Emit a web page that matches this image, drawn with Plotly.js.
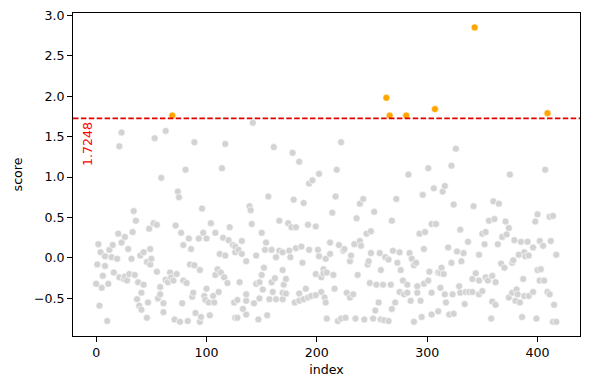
<!DOCTYPE html>
<html>
<head>
<meta charset="utf-8">
<script src="https://cdn.plot.ly/plotly-3.0.1.min.js"></script>
<style>html,body{margin:0;padding:0;background:#fff;}#chart{width:590px;height:389px;}</style>
</head>
<body>
<div id="chart"></div>
<script>
const threshold = 1.7248;

const index = [
0,1,2,3,4,5,6,8,8,10,11,12,14,15,16,19,20,21,21,23,23,25,26,26,28,29,30,32,33,34,35,36,37,38,39,40,41,41,43,43,46,46,47,48,49,49,50,52,53,55,55,56,58,58,59,61,63,63,
61,63,65,67,68,69,70,71,72,73,74,75,76,77,78,79,79,81,82,83,84,85,86,87,88,89,89,90,93,94,94,95,96,97,98,99,100,100,102,103,104,106,107,108,108,110,111,112,113,114,115,116,117,117,119,120,121,124,125,126,126,126,128,128,129,130,132,132,136,136,136,136,
133,139,140,141,142,143,145,145,147,148,148,150,150,151,152,153,154,155,156,157,159,159,160,161,162,163,163,166,166,169,169,169,169,170,172,172,174,175,176,177,178,179,180,181,181,184,184,184,186,187,188,188,190,192,192,193,193,195,196,199,199,199,201,202,202,204,204,206,206,207,208,208,209,209,212,
212,214,215,216,217,218,219,220,222,222,224,225,226,227,230,230,231,233,234,235,236,237,239,239,240,242,243,245,246,247,248,249,249,251,252,253,254,256,257,258,258,260,261,262,263,265,265,266,267,268,268,269,271,272,273,275,275,276,278,279,282,
281,282,283,284,285,286,288,288,290,291,291,293,294,295,296,297,297,298,301,301,302,304,304,304,306,307,308,310,310,312,312,313,314,315,316,316,317,319,320,322,322,323,324,324,326,327,329,330,330,331,333,334,335,337,338,341,341,342,343,344,347,347,347,350,350,353,353,
352,355,356,358,359,359,360,361,362,362,364,365,367,368,370,371,372,374,374,375,377,377,378,379,380,381,382,383,384,385,386,387,388,388,389,391,392,392,396,396,398,399,400,400,402,402,403,405,406,407,409,409,411,411,412,414,414,415,417,417
];

const score = [
-0.32,-0.08,0.17,-0.59,0.07,-0.37,-0.22,0.02,-0.10,-0.78,-0.32,0.10,0.01,0.16,-0.18,-0.01,0.30,1.38,-0.24,0.19,1.55,-0.26,-0.23,0.26,-0.28,0.11,-0.20,-0.01,0.32,0.58,-0.21,0.46,-0.51,-0.30,-0.59,0.03,-0.43,-0.64,-0.33,0.07,-0.74,-0.05,-0.55,0.36,0.11,-0.08,-0.01,0.43,1.48,-0.17,0.41,-0.50,-0.45,-0.36,0.99,-0.56,-0.28,1.57,
-0.67,-0.27,-0.30,-0.18,-0.24,1.76,-0.28,-0.76,0.40,-0.20,0.82,0.75,-0.79,0.31,-0.56,-0.28,0.16,1.09,-0.31,-0.78,0.24,-0.08,0.11,-0.48,-0.43,1.43,-0.09,-0.68,0.24,-0.79,-0.15,-0.73,0.61,0.31,-0.47,-0.52,0.24,-0.38,-0.55,-0.71,0.43,-0.47,-0.55,0.31,-0.21,-0.14,-0.42,0.05,-0.18,1.11,0.25,-0.24,1.41,0.03,-0.31,0.22,0.38,0.16,-0.55,0.14,-0.74,0.07,-0.52,-0.74,0.10,-0.30,0.05,0.21,-0.04,-0.45,-0.53,-0.70,
-0.63,0.64,0.59,0.42,1.67,-0.56,0.03,-0.32,-0.76,-0.30,-0.50,-0.21,0.31,-0.39,-0.12,0.10,0.19,-0.71,0.76,-0.51,0.10,-0.30,-0.42,1.37,-0.25,0.01,-0.51,0.09,0.46,-0.15,-0.51,0.07,-0.43,-0.33,-0.26,-0.44,0.43,0.09,0.01,0.38,1.30,0.72,-0.55,0.38,0.12,1.19,-0.53,-0.44,0.14,-0.06,-0.51,0.68,-0.38,0.41,-0.49,0.10,0.92,-0.47,0.96,0.39,-0.46,-0.20,0.10,1.04,0.02,-0.42,-0.24,-0.14,-0.19,-0.49,-0.01,-0.55,-0.18,-0.75,0.05,
0.19,0.56,-0.21,-0.38,0.76,1.09,-0.78,0.16,1.43,-0.75,0.09,0.11,-0.74,-0.43,-0.04,-0.49,0.03,-0.45,0.17,-0.75,0.49,-0.21,0.21,0.67,0.15,0.73,-0.76,0.30,-0.08,-0.04,-0.31,0.06,0.33,-0.75,0.57,-0.65,-0.33,-0.55,0.06,-0.15,-0.76,-0.33,-0.77,0.01,1.98,-0.78,-0.02,1.76,-0.33,0.46,-0.63,0.09,-0.55,0.73,-0.06,0.07,-0.42,-0.15,-0.28,-0.45,-0.33,
1.76,-0.43,1.03,0.06,-0.53,-0.01,-0.09,-0.79,-0.06,-0.35,-0.43,0.30,-0.53,-0.73,0.78,0.11,-0.32,0.32,-0.28,1.11,-0.17,-0.70,0.42,-0.43,0.86,1.84,0.42,-0.18,-0.66,-0.37,-0.19,-0.12,0.82,-0.20,0.89,-0.45,-0.55,0.13,-0.70,-0.06,1.14,-0.45,0.66,-0.69,1.35,0.08,-0.35,-0.43,0.35,-0.04,0.06,-0.57,-0.42,0.20,-0.42,-0.42,-0.26,0.64,2.85,-0.19,0.04,-0.45,-0.28,0.30,-0.41,0.32,-0.24,
0.17,-0.28,0.46,-0.75,-0.22,-0.54,0.70,0.48,-0.30,-0.58,0.17,0.67,-0.07,0.26,-0.12,0.45,0.29,0.37,-0.49,1.03,-0.06,-0.43,-0.03,0.22,-0.53,-0.39,-0.45,0.04,-0.55,0.20,-0.73,-0.26,0.07,-0.47,0.02,0.20,0.03,-0.47,0.13,-0.42,0.45,-0.75,0.54,-0.15,0.21,-0.28,-0.14,0.15,-0.28,1.09,1.79,-0.42,0.51,-0.45,0.21,-0.79,0.52,-0.58,-0.79,0.04
];

const xTickVals = [0, 100, 200, 300, 400];
const yTickVals = [-0.5, 0.0, 0.5, 1.0, 1.5, 2.0, 2.5, 3.0];
const yTickText = ["\u22120.5", "0.0", "0.5", "1.0", "1.5", "2.0", "2.5", "3.0"];

const colors = score.map(v => v > threshold ? "orange" : "lightgray");

const font = {family: "DejaVu Sans, sans-serif", size: 12.6, color: "#000"};

const trace = {
  type: "scatter",
  mode: "markers",
  x: index,
  y: score,
  marker: {size: 7, color: colors, line: {color: "white", width: 0.6}},
  hoverinfo: "x+y"
};

const layout = {
  width: 590,
  height: 389,
  margin: {l: 73, r: 10, t: 13, b: 53},
  paper_bgcolor: "white",
  plot_bgcolor: "white",
  font: font,
  showlegend: false,
  xaxis: {
    range: [-21, 438.5],
    tickvals: xTickVals,
    ticks: "outside", ticklen: 5, tickwidth: 1, tickcolor: "#000",
    showline: true, mirror: true, linecolor: "#000", linewidth: 1,
    showgrid: false, zeroline: false,
    tickfont: font,
    automargin: false,
    title: {text: "index", font: font, standoff: 6}
  },
  yaxis: {
    range: [-0.965, 3.028],
    tickvals: yTickVals,
    ticktext: yTickText,
    ticks: "outside", ticklen: 5, tickwidth: 1, tickcolor: "#000",
    showline: true, mirror: true, linecolor: "#000", linewidth: 1,
    showgrid: false, zeroline: false,
    tickfont: font,
    automargin: false,
    title: {text: "score", font: font, standoff: 8}
  },
  shapes: [{
    type: "line", xref: "paper", x0: 0, x1: 1, yref: "y", y0: threshold, y1: threshold,
    line: {color: "#e00000", width: 1.8, dash: "5.5px,2.4px"}
  }],
  annotations: [{
    x: -7.8, y: threshold, xref: "x", yref: "y",
    text: threshold.toFixed(4),
    showarrow: false, textangle: -90,
    xanchor: "center", yanchor: "top", yshift: -2,
    font: {family: "DejaVu Sans, sans-serif", size: 12.6, color: "red"}
  }]
};

Plotly.newPlot("chart", [trace], layout, {displayModeBar: false, staticPlot: true});
</script>
</body>
</html>
